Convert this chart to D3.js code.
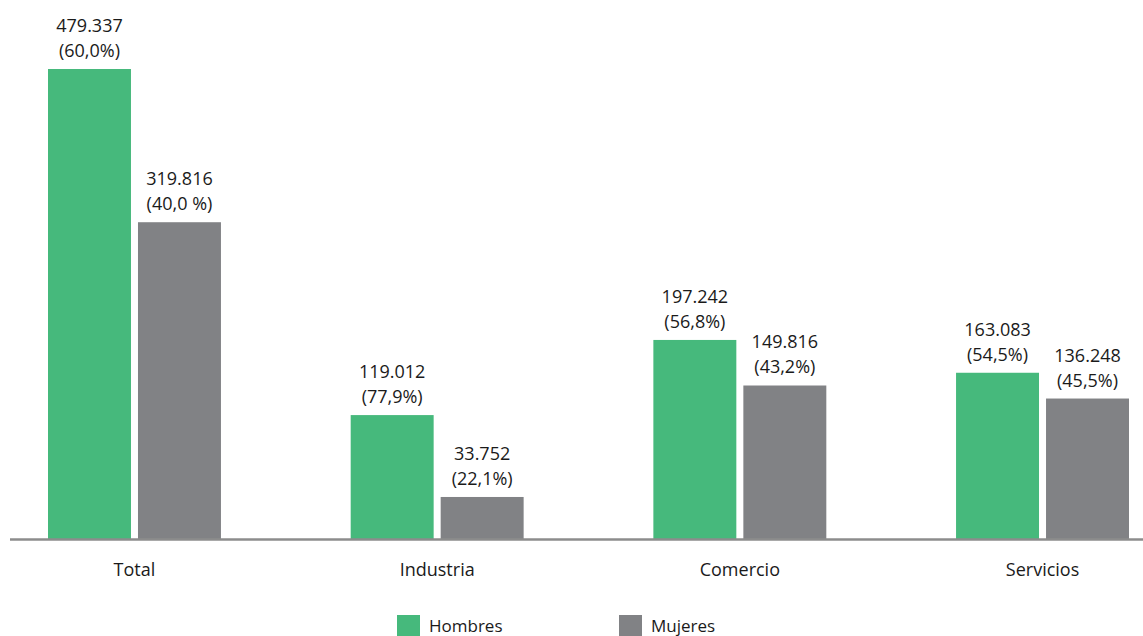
<!DOCTYPE html>
<html><head><meta charset="utf-8">
<script src="https://cdn.jsdelivr.net/npm/d3@7"></script>
<style>body{margin:0;background:#fff}svg{display:block}text{font-family:"Open Sans",sans-serif;fill:#1a1a1a}</style>
</head><body><svg id="c" width="1143" height="636"></svg>
<script>
const categories = ["Total", "Industria", "Comercio", "Servicios"];
const series = ["Hombres", "Mujeres"];
const hombres = [479337, 119012, 197242, 163083];
const mujeres = [319816, 33752, 149816, 136248];
const hombresPct = ["(60,0%)", "(77,9%)", "(56,8%)", "(54,5%)"];
const mujeresPct = ["(40,0 %)", "(22,1%)", "(43,2%)", "(45,5%)"];
const colors = {Hombres: "#46b97c", Mujeres: "#818285"};

const fmt = v => d3.format(",")(v).replace(/,/g, ".");
const svg = d3.select("#c");
const baseY = 539;
const x0 = d3.scaleBand().domain(categories).range([48, 1129]).paddingInner(0.4286).paddingOuter(0);
const x1 = d3.scaleBand().domain(series).range([0, x0.bandwidth()]).paddingInner(0.078).paddingOuter(0);
const y = d3.scaleLinear().domain([-10000, 479337]).range([baseY, 69]);

const data = [];
categories.forEach((c, i) => {
  data.push({cat: c, s: "Hombres", v: hombres[i], pct: hombresPct[i]});
  data.push({cat: c, s: "Mujeres", v: mujeres[i], pct: mujeresPct[i]});
});

svg.selectAll("rect.bar").data(data).enter().append("rect")
  .attr("class", "bar")
  .attr("x", d => x0(d.cat) + x1(d.s))
  .attr("width", x1.bandwidth())
  .attr("y", d => y(d.v))
  .attr("height", d => baseY - y(d.v))
  .attr("fill", d => colors[d.s]);

const lab = svg.selectAll("g.lab").data(data).enter().append("g").attr("class", "lab")
  .attr("transform", d => `translate(${x0(d.cat) + x1(d.s) + x1.bandwidth() / 2},${y(d.v)})`);
lab.append("text").attr("text-anchor", "middle").attr("y", -37).attr("font-size", 18).text(d => fmt(d.v));
lab.append("text").attr("text-anchor", "middle").attr("y", -12).attr("font-size", 18).text(d => d.pct);

// axis
const axis = svg.append("g").attr("transform", `translate(0,${baseY})`)
  .call(d3.axisBottom(x0).tickSize(0).tickPadding(24));
axis.select(".domain").attr("d", "M10,0.5H1143").attr("stroke", "#8c8c8c").attr("stroke-width", 2.5);
axis.selectAll(".tick text").attr("font-size", 18).attr("font-family", "Open Sans, sans-serif").attr("fill", "#1a1a1a");

// legend
const legX = d3.scaleOrdinal().domain(series).range([397, 619]);
const leg = svg.selectAll("g.leg").data(series).enter().append("g").attr("class", "leg")
  .attr("transform", d => `translate(${legX(d)},615)`);
leg.append("rect").attr("width", 23).attr("height", 22).attr("fill", d => colors[d]);
leg.append("text").attr("x", 32).attr("y", 17).attr("font-size", 17).text(d => d);
</script></body></html>
